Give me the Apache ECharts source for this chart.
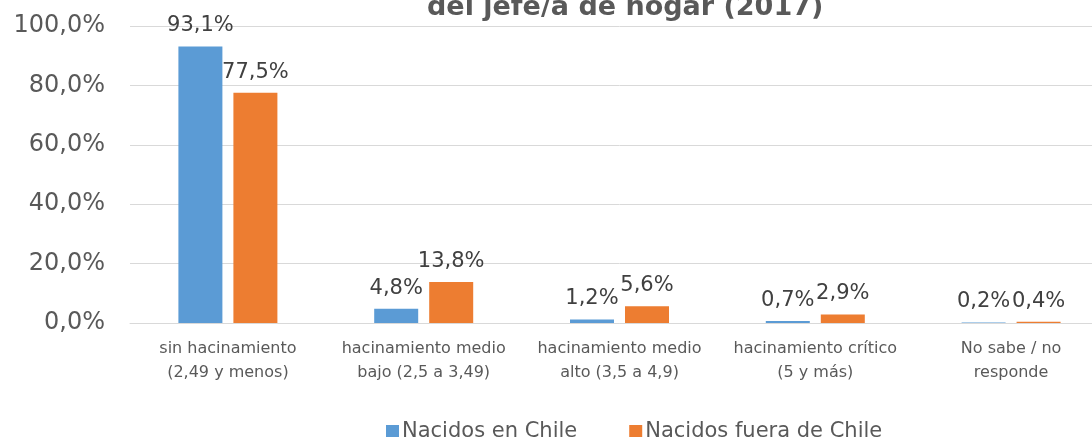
<!DOCTYPE html>
<html>
<head>
<meta charset="utf-8">
<script src="https://cdn.jsdelivr.net/npm/echarts@6/dist/echarts.min.js"></script>
<style>
  html, body { margin: 0; padding: 0; background: #fff; overflow: hidden; }
  #chart { width: 1109px; height: 437px; }
</style>
</head>
<body>
<div id="chart"></div>
<script>
const categories = [
    'sin hacinamiento\n(2,49 y menos)',
    'hacinamiento medio\nbajo (2,5 a 3,49)',
    'hacinamiento medio\nalto (3,5 a 4,9)',
    'hacinamiento crítico\n(5 y más)',
    'No sabe / no\nresponde'
];
const nacidosChile = [93.1, 4.8, 1.2, 0.7, 0.2];
const nacidosFuera = [77.5, 13.8, 5.6, 2.9, 0.4];
const seriesNames = ['Nacidos en Chile', 'Nacidos fuera de Chile'];

const font = '"DejaVu Sans", sans-serif';
const fmt = v => v.toFixed(1).replace('.', ',') + '%';

// the chart is a bit wider than the window: the last category is cut on the right
const chart = echarts.init(document.getElementById('chart'));

const labelStyle = {
    show: true, position: 'top', distance: 10,
    color: '#404040', fontSize: 21, fontFamily: font,
    formatter: p => fmt(p.value)
};

chart.setOption({
    animation: false,
    title: {
        text: 'del jefe/a de hogar (2017)',
        left: 422, top: -12,
        textStyle: { color: '#595959', fontSize: 27, fontWeight: 'bold', fontFamily: font, lineHeight: 30 }
    },
    legend: {
        data: seriesNames,
        left: 381, top: 416,
        itemWidth: 13, itemHeight: 13, itemGap: 52,
        icon: 'rect',
        textStyle: { color: '#595959', fontSize: 21, fontFamily: font, padding: [0, 0, 0, -2] }
    },
    grid: { left: 130, right: 0, top: 26, bottom: 114, containLabel: false },
    xAxis: {
        type: 'category',
        data: categories,
        axisLine: { lineStyle: { color: '#D9D9D9', width: 1 } },
        axisTick: { show: false },
        axisLabel: {
            color: '#595959', fontSize: 16, fontFamily: font,
            lineHeight: 24, margin: 14, interval: 0
        }
    },
    yAxis: {
        type: 'value',
        min: 0, max: 100, interval: 20,
        axisLine: { show: false },
        axisTick: { show: false },
        splitLine: { lineStyle: { color: '#D9D9D9', width: 1 } },
        axisLabel: {
            color: '#595959', fontSize: 24, fontFamily: font, margin: 25,
            formatter: v => fmt(v)
        }
    },
    series: [
        {
            name: seriesNames[0], type: 'bar', data: nacidosChile,
            barWidth: 44, barGap: '25%',
            itemStyle: { color: '#5B9BD5' },
            label: labelStyle
        },
        {
            name: seriesNames[1], type: 'bar', data: nacidosFuera,
            barWidth: 44,
            itemStyle: { color: '#ED7D31' },
            label: labelStyle
        }
    ]
});
</script>
</body>
</html>
